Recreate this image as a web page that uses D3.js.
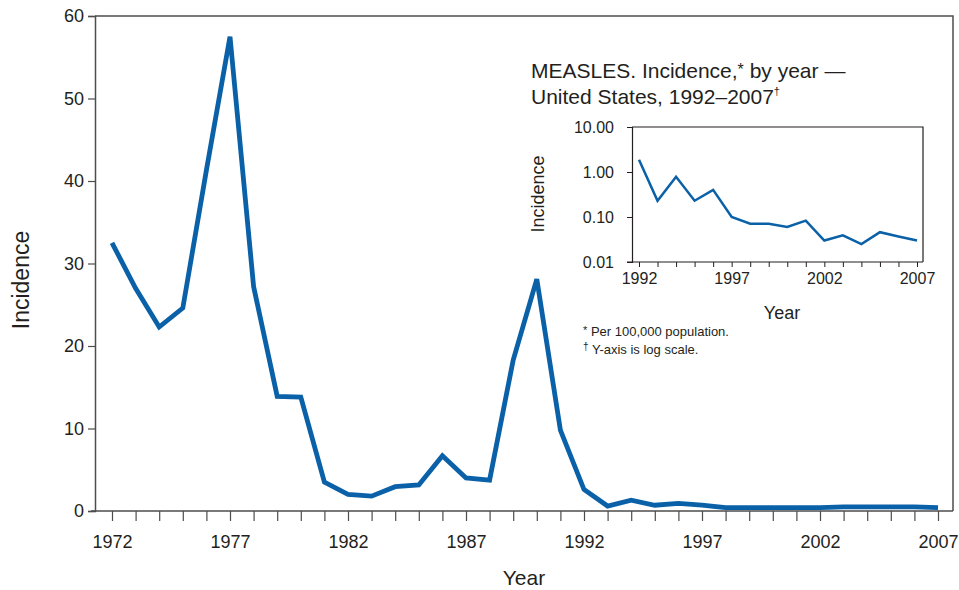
<!DOCTYPE html>
<html>
<head>
<meta charset="utf-8">
<script src="https://cdn.jsdelivr.net/npm/d3@7"></script>
<style>
  body { margin: 0; background: #fff; }
  svg text { font-family: "Liberation Sans", Arial, Helvetica, sans-serif; fill: #231f20; }
</style>
</head>
<body>
<div id="chart"></div>
<script>
// Main series: incidence by year, 1972-2007
const years = d3.range(1972, 2008);
const incidence = [
  32.5, 27.0, 22.3, 24.6, 41.3, 57.5, 27.2, 13.9, 13.8, 3.5,
  2.0, 1.8, 2.95, 3.15, 6.7, 4.0, 3.75, 18.3, 28.1, 9.8,
  2.6, 0.6, 1.3, 0.7, 0.93, 0.7, 0.4, 0.4, 0.4, 0.4,
  0.4, 0.5, 0.5, 0.5, 0.5, 0.4
];
const yTicks = [0, 10, 20, 30, 40, 50, 60];
const xTickLabels = [1972, 1977, 1982, 1987, 1992, 1997, 2002, 2007];

// Inset series (log scale), 1992-2007
const insetYears = d3.range(1992, 2008);
const insetIncidence = [
  1.88, 0.23, 0.78, 0.23, 0.40, 0.10, 0.071, 0.071,
  0.06, 0.083, 0.030, 0.039, 0.025, 0.046, 0.037, 0.030
];
const insetTicks = [0.01, 0.1, 1, 10];

const width = 959, height = 590;
const blue = "#0a61a8";
const axisColor = "#4d4d4d";

const svg = d3.select("#chart").append("svg")
  .attr("width", width).attr("height", height);

// ---------- main chart ----------
const box = { left: 95, right: 953, top: 16, bottom: 511 };

const x = d3.scaleLinear().domain([1972, 2007]).range([112, 938]);
const y = d3.scaleLinear().domain([0, 60]).range([box.bottom, box.top]);

// box top + right
svg.append("path")
  .attr("d", `M${box.left},${box.top}H${box.right}V${box.bottom}`)
  .attr("fill", "none").attr("stroke", axisColor).attr("stroke-width", 1.5);

const yAxis = svg.append("g")
  .attr("transform", `translate(${box.left},0)`)
  .call(d3.axisLeft(y).tickValues(yTicks).tickSize(7).tickPadding(4));
yAxis.selectAll("text").style("font-size", "18px");

const xAxis = svg.append("g")
  .attr("transform", `translate(0,${box.bottom})`)
  .call(d3.axisBottom(x).tickValues(years).tickSize(10).tickPadding(14)
    .tickFormat((d) => (xTickLabels.includes(d) ? d : "")));
xAxis.selectAll("text").style("font-size", "18px");
xAxis.select(".domain").attr("d", `M${box.left - 4},0H${box.right}`);

[yAxis, xAxis].forEach((g) => {
  g.select(".domain").attr("stroke", axisColor).attr("stroke-width", 1.5);
  g.selectAll(".tick line").attr("stroke", axisColor).attr("stroke-width", 1.2);
  g.selectAll("text").attr("fill", "#231f20")
    .style("font-family", "'Liberation Sans', Arial, sans-serif");
});

const line = d3.line()
  .x((d, i) => x(years[i]))
  .y((d) => y(d));

svg.append("path")
  .datum(incidence)
  .attr("d", line)
  .attr("fill", "none")
  .attr("stroke", blue)
  .attr("stroke-width", 4.8)
  .attr("stroke-linejoin", "miter");

svg.append("text")
  .attr("transform", "translate(29,280) rotate(-90)")
  .attr("text-anchor", "middle")
  .style("font-size", "23px")
  .text("Incidence");

svg.append("text")
  .attr("x", 524).attr("y", 585)
  .attr("text-anchor", "middle")
  .style("font-size", "21px")
  .text("Year");

// ---------- inset ----------
const ib = { left: 632, right: 923, top: 127, bottom: 262 };
const ix = d3.scaleLinear().domain([1992, 2007]).range([639, 917]);
const iy = d3.scaleLog().domain([0.01, 10]).range([ib.bottom, ib.top]);

svg.append("path")
  .attr("d", `M${ib.left},${ib.top}H${ib.right}V${ib.bottom}`)
  .attr("fill", "none").attr("stroke", "#231f20").attr("stroke-width", 1.2);

const iyAxis = svg.append("g")
  .attr("transform", `translate(${ib.left},0)`)
  .call(d3.axisLeft(iy).tickValues(insetTicks).tickSize(5).tickPadding(13)
    .tickFormat(d3.format(".2f")));

const ixAxis = svg.append("g")
  .attr("transform", `translate(0,${ib.bottom})`)
  .call(d3.axisBottom(ix).tickValues(insetYears).tickSize(5).tickPadding(6)
    .tickFormat((d) => ((d - 1992) % 5 === 0 ? d : "")));
ixAxis.select(".domain").attr("d", `M${ib.left - 5},0H${ib.right}`);

[iyAxis, ixAxis].forEach((g) => {
  g.select(".domain").attr("stroke", "#231f20").attr("stroke-width", 1.2);
  g.selectAll(".tick line").attr("stroke", "#231f20").attr("stroke-width", 1);
  g.selectAll("text").attr("fill", "#231f20").style("font-size", "16px")
    .style("font-family", "'Liberation Sans', Arial, sans-serif");
});

svg.append("path")
  .datum(insetIncidence)
  .attr("d", d3.line().x((d, i) => ix(insetYears[i])).y((d) => iy(d)))
  .attr("fill", "none")
  .attr("stroke", blue)
  .attr("stroke-width", 2.5);

svg.append("text")
  .attr("transform", "translate(544,194) rotate(-90)")
  .attr("text-anchor", "middle")
  .style("font-size", "18px")
  .text("Incidence");

svg.append("text")
  .attr("x", 782).attr("y", 319)
  .attr("text-anchor", "middle")
  .style("font-size", "18px")
  .text("Year");

// title
const t1 = svg.append("text").attr("x", 531).attr("y", 78).style("font-size", "21px");
t1.append("tspan").text("MEASLES. Incidence,");
t1.append("tspan").attr("dy", -3).style("font-size", "16px").text("*");
t1.append("tspan").attr("dy", 3).text(" by year —");

const t2 = svg.append("text").attr("x", 531).attr("y", 104).style("font-size", "21px");
t2.append("tspan").text("United States, 1992–2007");
t2.append("tspan").attr("dy", -9).style("font-size", "11px").text("†");

// footnotes
const f1 = svg.append("text").attr("x", 583).attr("y", 336).style("font-size", "13px");
f1.append("tspan").attr("dy", -2).style("font-size", "11px").text("*");
f1.append("tspan").attr("dy", 2).text(" Per 100,000 population.");

const f2 = svg.append("text").attr("x", 583).attr("y", 354).style("font-size", "13px");
f2.append("tspan").attr("dy", -4).style("font-size", "10px").text("†");
f2.append("tspan").attr("dy", 4).text(" Y-axis is log scale.");
</script>
</body>
</html>
